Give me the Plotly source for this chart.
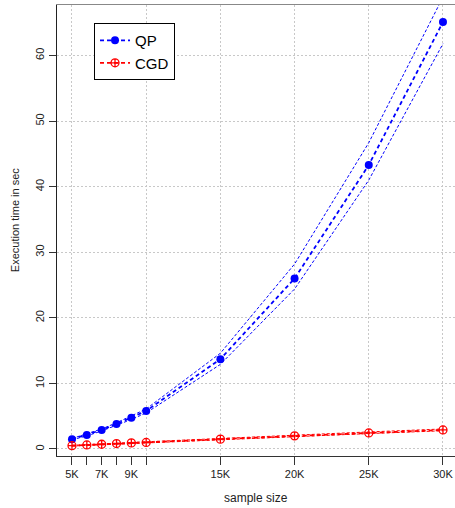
import plotly.graph_objects as go

# ---- data ----
sample_size = [5000, 6000, 7000, 8000, 9000, 10000, 15000, 20000, 25000, 30000]
tick_vals = [5000, 6000, 7000, 8000, 9000, 10000, 15000, 20000, 25000, 30000]
tick_text = ["5K", "", "7K", "", "9K", "", "15K", "20K", "25K", "30K"]
grid_x = [5000, 10000, 15000, 20000, 25000, 30000]
y_ticks = [0, 10, 20, 30, 40, 50, 60]

qp_mean = [1.5, 2.15, 2.9, 3.8, 4.75, 5.8, 13.7, 26.0, 43.3, 65.1]
qp_upper = [1.6, 2.3, 3.05, 4.0, 5.0, 6.1, 14.6, 28.2, 46.7, 68.9]
qp_lower = [1.4, 2.0, 2.75, 3.6, 4.5, 5.5, 12.9, 24.4, 41.0, 61.8]

cgd_mean = [0.5, 0.62, 0.72, 0.83, 0.93, 1.0, 1.5, 2.0, 2.45, 2.9]
cgd_upper = [0.56, 0.68, 0.8, 0.9, 1.0, 1.1, 1.6, 2.15, 2.6, 3.05]
cgd_lower = [0.45, 0.56, 0.65, 0.75, 0.85, 0.92, 1.4, 1.9, 2.35, 2.78]

BLUE = "#0000FF"
RED = "#FF0000"
FONT = "Liberation Sans, Arial, Helvetica, sans-serif"

fig = go.Figure()

# bounds (thin dashed)
for ys, col in [(qp_upper, BLUE), (qp_lower, BLUE), (cgd_upper, RED), (cgd_lower, RED)]:
    fig.add_trace(go.Scatter(
        x=sample_size, y=ys, mode="lines", xaxis="x2",
        line=dict(color=col, width=1, dash="3px,2px"),
        showlegend=False, hoverinfo="skip"))

fig.add_trace(go.Scatter(
    x=sample_size, y=qp_mean, mode="lines+markers", name="QP",
    line=dict(color=BLUE, width=1.8, dash="4px,3px"),
    marker=dict(symbol="circle", size=8, color=BLUE)))
fig.add_trace(go.Scatter(
    x=sample_size, y=cgd_mean, mode="lines+markers", name="CGD",
    line=dict(color=RED, width=1.8, dash="4px,3px"),
    marker=dict(symbol="circle-cross-open", size=8, color=RED, line=dict(width=1.3, color=RED))))

X_RANGE = [3990, 30810]
Y_RANGE = [-1.07, 67.7]

fig.update_layout(
    width=455, height=508,
    margin=dict(l=57, r=0, t=5, b=52),
    paper_bgcolor="white", plot_bgcolor="white",
    font=dict(family=FONT, size=11, color="#222"),
    xaxis=dict(
        range=X_RANGE, tickmode="array", tickvals=tick_vals, ticktext=tick_text,
        showgrid=False, zeroline=False, showline=True, linecolor="#333", linewidth=1.3,
        ticks="outside", ticklen=8, tickwidth=1.2, tickcolor="#333",
        tickfont=dict(size=11, color="#222")),
    xaxis2=dict(
        range=X_RANGE, overlaying="x", side="top", anchor="y",
        tickmode="array", tickvals=grid_x, showticklabels=False, ticks="",
        showgrid=True, gridcolor="#C8C8C8", gridwidth=1, griddash="2px,2px",
        zeroline=False, showline=True, linecolor="#888", linewidth=1),
    yaxis=dict(
        range=Y_RANGE, tickmode="array", tickvals=y_ticks, tickangle=-90,
        showgrid=True, gridcolor="#C8C8C8", gridwidth=1, griddash="2px,2px",
        zeroline=False, showline=True, linecolor="#222", linewidth=1.3,
        ticks="outside", ticklen=7, tickwidth=1.2, tickcolor="#333",
        tickfont=dict(size=11, color="#222")),
    legend=dict(
        x=0.093, y=0.96, xanchor="left", yanchor="top",
        bordercolor="black", borderwidth=1, bgcolor="white",
        font=dict(size=15, color="black"), traceorder="normal"),
    annotations=[
        dict(text="Execution time in sec", textangle=-90, xref="paper", yref="paper",
             x=-0.1055, y=0.523, xanchor="center", yanchor="middle", showarrow=False,
             font=dict(size=11, color="#222")),
        dict(text="sample size", xref="paper", yref="paper",
             x=0.5, y=-0.093, xanchor="center", yanchor="middle", showarrow=False,
             font=dict(size=12, color="#222")),
    ],
)

fig.write_html("out.html",
               config={"displayModeBar": False},
               post_script="document.body.style.margin='0';document.body.style.padding='0';")
